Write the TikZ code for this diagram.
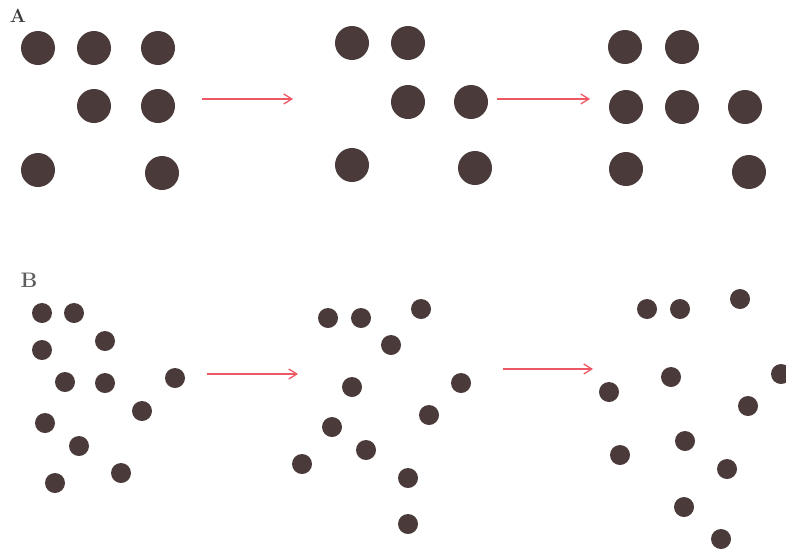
\documentclass[tikz,border=0pt]{standalone}
\usepackage{fontspec}
\usetikzlibrary{arrows.meta}
\definecolor{dotbrown}{HTML}{4A3B3A}
\definecolor{arrowred}{HTML}{EE5864}
\definecolor{labelgray}{HTML}{3A3A3A}
\definecolor{labelgrayB}{HTML}{5E5E5E}
\tikzset{
  bigdot/.style={
    circle,
    fill=dotbrown,
    inner sep=0pt,
    minimum size=34pt
  },
  smalldot/.style={
    circle,
    fill=dotbrown,
    inner sep=0pt,
    minimum size=20pt
  },
  steparrow/.style={-{Straight Barb[length=8pt,width=10pt]},line width=1.3pt,draw=arrowred},
  panellabel/.style={font=\fontsize{19}{19}\selectfont\bfseries,text=labelgray}
}

\begin{document}
\begin{tikzpicture}[x=1pt,y=-1pt]
\useasboundingbox (0,0) rectangle (786,549);

% panel A
\node[panellabel] (labA) at (18,16) {A};
\foreach \x/\y [count=\i] in {38/48,94/48,158/48,94/106,158/106,38/170,162/173}
  \node[bigdot] (a1-\i) at (\x,\y) {};
\foreach \x/\y [count=\i] in {352/43,408/43,408/102,471/102,352/165,475/168}
  \node[bigdot] (a2-\i) at (\x,\y) {};
\foreach \x/\y [count=\i] in {625/47,682/47,626/107,682/107,745/107,626/169,749/172}
  \node[bigdot] (a3-\i) at (\x,\y) {};
\coordinate (a12s) at (202,99);
\coordinate (a12e) at (293,99);
\coordinate (a23s) at (497,99);
\coordinate (a23e) at (590,99);
\draw[steparrow] (a12s) -- (a12e);
\draw[steparrow] (a23s) -- (a23e);

% panel B
\node[panellabel,font=\fontsize{21}{21}\selectfont\bfseries,text=labelgrayB] (labB) at (29,280) {B};
\foreach \x/\y [count=\i] in {42/313,74/313,42/350,105/341,65/382,105/383,175/378,142/411,45/423,79/446,121/473,55/483}
  \node[smalldot] (b1-\i) at (\x,\y) {};
\foreach \x/\y [count=\i] in {328/318,361/318,421/309,391/345,352/387,461/383,429/415,332/427,366/450,302/464,408/478,408/524}
  \node[smalldot] (b2-\i) at (\x,\y) {};
\foreach \x/\y [count=\i] in {647/309,680/309,740/299,671/377,781/374,609/392,748/406,685/441,620/455,727/469,684/507,721/539}
  \node[smalldot] (b3-\i) at (\x,\y) {};
\coordinate (b12s) at (207,374);
\coordinate (b12e) at (298,374);
\coordinate (b23s) at (503,369);
\coordinate (b23e) at (593,369);
\draw[steparrow] (b12s) -- (b12e);
\draw[steparrow] (b23s) -- (b23e);
\end{tikzpicture}
\end{document}
